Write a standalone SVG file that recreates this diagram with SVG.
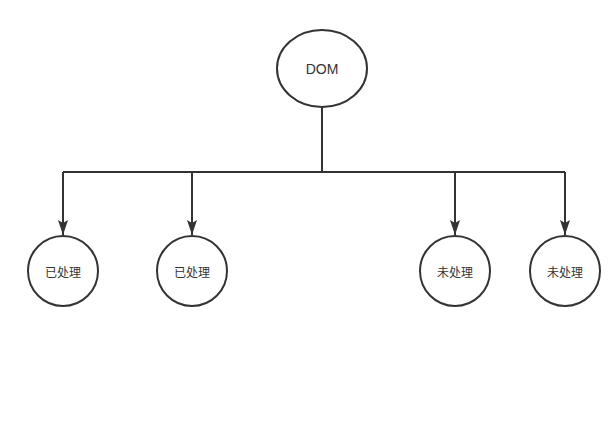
<svg xmlns="http://www.w3.org/2000/svg" width="614" height="425" viewBox="0 0 614 425">
<style>
.node{fill:#fff;stroke:#333;stroke-width:2}
.lbl{font-family:"Noto Sans CJK SC","Liberation Sans",sans-serif;font-size:12px;fill:#333;text-anchor:middle;dominant-baseline:central}
.edge{fill:none;stroke:#333;stroke-width:2}
</style>
<defs>
<marker id="arr" markerWidth="16" markerHeight="12" refX="15" refY="6" orient="auto" markerUnits="userSpaceOnUse">
<path d="M0,1 L15,6 L0,11 L3,6 Z" fill="#333"/>
</marker>
</defs>
<rect width="614" height="425" fill="#fff"/>
<g id="connectors">
<path class="edge" d="M322,107 V172"/>
<path class="edge" d="M63,172 H565"/>
<path class="edge" d="M63,172 V235" marker-end="url(#arr)"/>
<path class="edge" d="M192,172 V235" marker-end="url(#arr)"/>
<path class="edge" d="M455,172 V235" marker-end="url(#arr)"/>
<path class="edge" d="M565,172 V235" marker-end="url(#arr)"/>
</g>
<g id="dom"><ellipse class="node" cx="322" cy="68.5" rx="45" ry="38.5"/><text class="lbl" x="322" y="69" style="font-family:'Liberation Sans',sans-serif;font-size:14px">DOM</text></g>
<g id="n1"><circle class="node" cx="63" cy="271" r="35"/><text class="lbl" x="63" y="271">已处理</text></g>
<g id="n2"><circle class="node" cx="192" cy="271" r="35"/><text class="lbl" x="192" y="271">已处理</text></g>
<g id="n3"><circle class="node" cx="455" cy="271" r="35"/><text class="lbl" x="455" y="271">未处理</text></g>
<g id="n4"><circle class="node" cx="565" cy="271" r="35"/><text class="lbl" x="565" y="271">未处理</text></g>
</svg>
